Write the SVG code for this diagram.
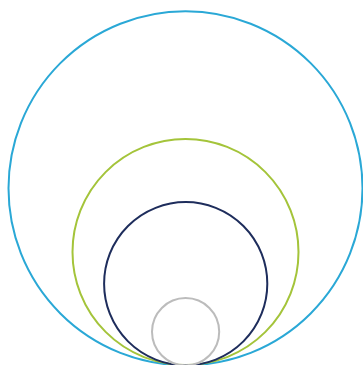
<svg xmlns="http://www.w3.org/2000/svg" width="363" height="365" viewBox="0 0 363 365">
<style>
.c{fill:none;stroke-width:2}
</style>
<rect width="363" height="365" fill="#ffffff"/>
<g id="outer"><circle class="c" cx="185.5" cy="188.3" r="177" stroke="#2aa8d6"/></g>
<g id="green"><circle class="c" cx="185.5" cy="252" r="113" stroke="#a4c43a"/></g>
<g id="navy"><circle class="c" cx="185.7" cy="283.7" r="81.6" stroke="#1e2d5c"/></g>
<g id="gray"><circle class="c" cx="185.6" cy="331.7" r="33.6" stroke="#bcbcbc"/></g>
<g id="connectors"></g>
</svg>
